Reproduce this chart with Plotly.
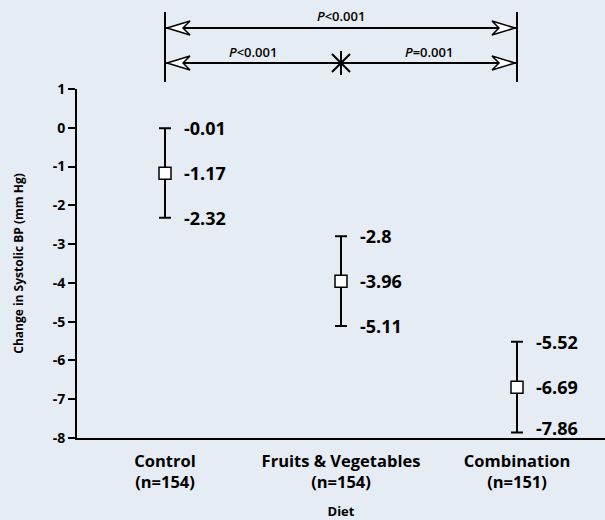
import plotly.graph_objects as go

# ---- data ----
diets = ["Control", "Fruits & Vegetables", "Combination"]
n_sizes = [154, 154, 151]
means = [-1.17, -3.96, -6.69]
upper = [-0.01, -2.8, -5.52]
lower = [-2.32, -5.11, -7.86]
y_ticks = [1, 0, -1, -2, -3, -4, -5, -6, -7, -8]
y_tick_labels = ["1", "0", "-1", "-2", "-3", "-4", "-5", "-6", "-7", "-8"]
# comparisons: (group a, group b, label, row)  row 1 = top, row 0 = lower
comparisons = [(0, 2, "<i>P</i>&lt;0.001", 1),
               (0, 1, "<i>P</i>&lt;0.001", 0),
               (1, 2, "<i>P</i>=0.001", 0)]

FONT = "Open Sans"
BG = "#e6ecf3"
Y_RANGE = [-8, 1]
PLOT_H = 520 - 89 - 80
PX_PER_UNIT = PLOT_H / (Y_RANGE[1] - Y_RANGE[0])

xs = list(range(len(diets)))
fig = go.Figure()
fig.add_trace(go.Scatter(
    x=xs, y=means, mode="markers",
    marker=dict(symbol="square", size=12, color="white",
                line=dict(color="black", width=1.5)),
    error_y=dict(type="data", symmetric=False,
                 array=[u - m for u, m in zip(upper, means)],
                 arrayminus=[m - l for m, l in zip(means, lower)],
                 color="black", thickness=2, width=6),
    showlegend=False, hoverinfo="skip"))

annotations = []
for x, vals in zip(xs, zip(upper, means, lower)):
    for v in vals:
        lift = max(0.0, 10 - (v - Y_RANGE[0]) * PX_PER_UNIT)
        annotations.append(dict(x=x, y=v, xref="x", yref="y", text=f"{v:g}",
                                showarrow=False, xanchor="left", yanchor="middle",
                                xshift=17, yshift=lift,
                                font=dict(family=FONT, size=18, color="black", weight=700)))

# bracket geometry (pixels above plot top)
ROW_Y = {1: 61, 0: 26}
TEXT_Y = {1: 73, 0: 37}
shapes = []
lo_all = min(min(a, b) for a, b, _, _ in comparisons)
hi_all = max(max(a, b) for a, b, _, _ in comparisons)
for xv in (lo_all, hi_all):
    shapes.append(dict(type="line", xref="x", yref="paper", ysizemode="pixel", yanchor=1,
                       x0=xv, x1=xv, y0=7, y1=77, line=dict(color="black", width=2)))
for row in (1, 0):
    yy = ROW_Y[row]
    shapes.append(dict(type="line", xref="x", yref="paper", ysizemode="pixel", yanchor=1,
                       x0=lo_all, x1=hi_all, y0=yy, y1=yy, line=dict(color="black", width=2)))
    for xv, s in ((lo_all, 1), (hi_all, -1)):
        p = (f"M {2*s},{yy} L {25*s},{yy+7} L {18*s},{yy} L {25*s},{yy-7} Z")
        shapes.append(dict(type="path", xref="x", yref="paper", xsizemode="pixel",
                           ysizemode="pixel", xanchor=xv, yanchor=1, path=p,
                           fillcolor="white", line=dict(color="black", width=1.5)))
# star at the shared middle group of the lower row
mid = 1
yy = ROW_Y[0]
shapes.append(dict(type="path", xref="x", yref="paper", xsizemode="pixel",
                   ysizemode="pixel", xanchor=mid, yanchor=1,
                   path=(f"M 0,{yy-12} L 0,{yy+12} M -9,{yy-9} L 9,{yy+9} "
                         f"M -9,{yy+9} L 9,{yy-9}"),
                   line=dict(color="black", width=2)))
for a, b, label, row in comparisons:
    annotations.append(dict(x=(a + b) / 2, y=1, xref="x", yref="paper", yshift=TEXT_Y[row],
                            yanchor="middle", xanchor="center",
                            text=label, showarrow=False,
                            font=dict(family=FONT, size=13, color="black", weight=600)))

fig.update_layout(
    width=605, height=520,
    margin=dict(l=77, r=0, t=89, b=80),
    paper_bgcolor=BG, plot_bgcolor=BG,
    font=dict(family=FONT, color="black"),
    shapes=shapes, annotations=annotations,
    xaxis=dict(range=[-0.5, 2.5], tickvals=xs,
               ticktext=[f"{d}<br>(n={n})" for d, n in zip(diets, n_sizes)],
               tickfont=dict(family=FONT, size=16.5, color="black", weight=700),
               ticks="", ticklabelstandoff=7,
               showline=True, linecolor="black", linewidth=2, showgrid=False, zeroline=False,
               title=dict(text="Diet", font=dict(family=FONT, size=13, color="black", weight=700),
                          standoff=18)),
    yaxis=dict(range=Y_RANGE, tickvals=y_ticks, ticktext=y_tick_labels,
               tickfont=dict(family=FONT, size=14, color="black", weight=700),
               ticks="outside", ticklen=7, tickwidth=2, tickcolor="black",
               showline=True, linecolor="black", linewidth=2, showgrid=False, zeroline=False,
               title=dict(text="Change in Systolic BP (mm Hg)",
                          font=dict(family=FONT, size=12, color="black", weight=700),
                          standoff=26)),
)
fig.write_html("out.html", config={"displayModeBar": False},
               post_script="document.body.style.margin='0';"
                           "document.body.style.background='#e6ecf3';")
